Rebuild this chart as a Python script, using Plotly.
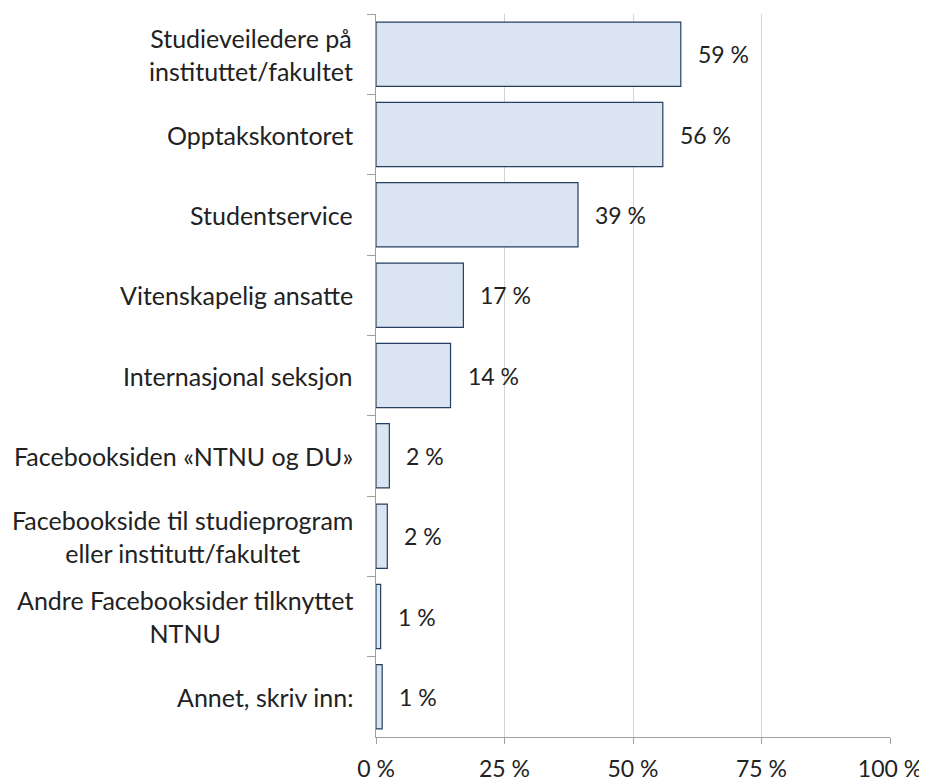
import plotly.graph_objects as go

categories = [
    "Studieveiledere på<br>instituttet/fakultet",
    "Opptakskontoret",
    "Studentservice",
    "Vitenskapelig ansatte",
    "Internasjonal seksjon",
    "Facebooksiden «NTNU og DU»",
    "Facebookside til studieprogram<br>eller institutt/fakultet",
    "Andre Facebooksider tilknyttet<br>NTNU",
    "Annet, skriv inn:",
]
values = [59.3, 55.8, 39.3, 17.0, 14.5, 2.6, 2.2, 0.9, 1.2]
value_labels = ["59 %", "56 %", "39 %", "17 %", "14 %", "2 %", "2 %", "1 %", "1 %"]
x_tickvals = [0, 25, 50, 75, 100]
x_ticktext = ["0 %", "25 %", "50 %", "75 %", "100 %"]

FONT = "Lato, Carlito, Calibri, sans-serif"
TXT = "#222222"
AX = "#a0a0a0"

fig = go.Figure()
fig.add_trace(go.Bar(
    y=categories, x=values, orientation="h", width=0.8,
    marker=dict(color="#dbe5f1", line=dict(color="#243f60", width=1.2)),
    hoverinfo="skip",
))

annotations = []
for c, v, t in zip(categories, values, value_labels):
    annotations.append(dict(x=v, y=c, xref="x", yref="y", text=t, showarrow=False,
                            xanchor="left", xshift=15, font=dict(family=FONT, size=23, color=TXT)))
    annotations.append(dict(x=0, y=c, xref="paper", yref="y", text=c, showarrow=False,
                            xanchor="right", xshift=-21, align="center",
                            font=dict(family=FONT, size=25, color=TXT)))

fig.update_layout(
    width=919, height=774,
    margin=dict(l=368, r=37, t=6, b=45),
    paper_bgcolor="white", plot_bgcolor="white",
    showlegend=False,
    font=dict(family=FONT, size=23, color=TXT),
    annotations=annotations,
    bargap=0.2,
)
fig.update_xaxes(
    range=[0, 100], tickvals=x_tickvals, ticktext=x_ticktext,
    showgrid=True, gridcolor="#d4d4d4", gridwidth=1,
    showline=True, linecolor=AX, linewidth=1, zeroline=False,
    ticks="outside", ticklen=6, tickcolor=AX,
    ticklabelstandoff=5, automargin=False,
    tickfont=dict(family=FONT, size=23, color=TXT),
)
fig.update_yaxes(
    autorange="reversed", showticklabels=False, automargin=False,
    showline=True, linecolor=AX, linewidth=1,
    ticks="outside", tickson="boundaries", ticklen=8, tickcolor=AX,
    showgrid=False, zeroline=False,
)

fig.write_html("out.html")
